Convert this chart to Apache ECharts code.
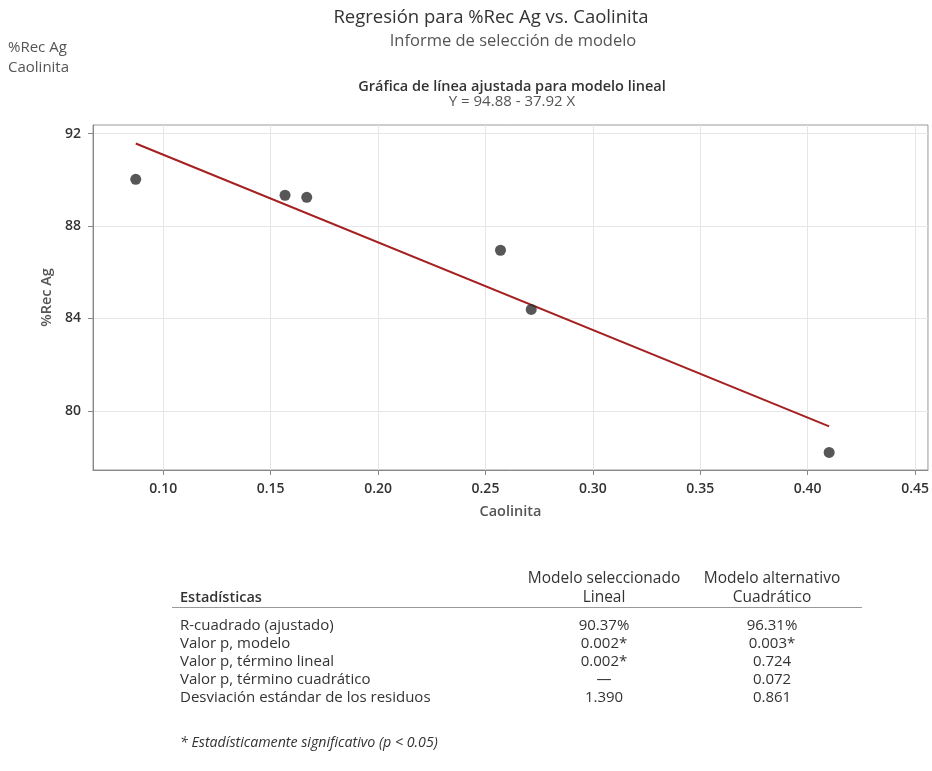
<!DOCTYPE html>
<html>
<head>
<meta charset="utf-8">
<script src="https://cdn.jsdelivr.net/npm/echarts@6/dist/echarts.min.js"></script>
<style>html,body{margin:0;padding:0;background:#fff}#c{width:932px;height:771px}</style>
</head>
<body>
<div id="c"></div>
<script>
// Data
const caolinita = [0.0872, 0.1567, 0.1668, 0.2570, 0.2713, 0.4100];
const recAg = [90.02, 89.33, 89.24, 86.95, 84.39, 78.20];
const fitX = [0.0872, 0.4100];
const fitY = [91.57, 79.33];
const xTicks = [0.10, 0.15, 0.20, 0.25, 0.30, 0.35, 0.40, 0.45];
const yTicks = [80, 84, 88, 92];
const tableRows = ['R-cuadrado (ajustado)', 'Valor p, modelo', 'Valor p, término lineal', 'Valor p, término cuadrático', 'Desviación estándar de los residuos'];
const linealVals = ['90.37%', '0.002*', '0.002*', '—', '1.390'];
const cuadVals = ['96.31%', '0.003*', '0.724', '0.072', '0.861'];

const FONT = 'Open Sans';
const f = (s, w, st) => (st || '') + ' ' + (w || 'normal') + ' ' + s + 'px "' + FONT + '"';
const chart = echarts.init(document.getElementById('c'), null, {renderer: 'canvas'});

const graphics = [
  {type: 'text', x: 8, y: 48, style: {text: '%Rec Ag', font: f(15), fill: '#555', verticalAlign: 'middle'}},
  {type: 'text', x: 8, y: 68, style: {text: 'Caolinita', font: f(15), fill: '#555', verticalAlign: 'middle'}},
  {type: 'text', x: 491, y: 18, style: {text: 'Regresión para %Rec Ag vs. Caolinita', font: f(18.5), fill: '#333', align: 'center', verticalAlign: 'middle'}},
  {type: 'text', x: 513, y: 41, style: {text: 'Informe de selección de modelo', font: f(16.5), fill: '#555', align: 'center', verticalAlign: 'middle'}},
  {type: 'text', x: 512, y: 87, style: {text: 'Gráfica de línea ajustada para modelo lineal', font: f(14.5, 600), fill: '#333', align: 'center', verticalAlign: 'middle'}},
  {type: 'text', x: 512, y: 102, style: {text: 'Y = 94.88 - 37.92 X', font: f(15), fill: '#555', align: 'center', verticalAlign: 'middle'}},
  // table header
  {type: 'text', x: 180, y: 598, style: {text: 'Estadísticas', font: f(14.5, 600), fill: '#333', verticalAlign: 'middle'}},
  {type: 'text', x: 604, y: 579, style: {text: 'Modelo seleccionado', font: f(15.5), fill: '#333', align: 'center', verticalAlign: 'middle'}},
  {type: 'text', x: 604, y: 598, style: {text: 'Lineal', font: f(15.5), fill: '#333', align: 'center', verticalAlign: 'middle'}},
  {type: 'text', x: 772, y: 579, style: {text: 'Modelo alternativo', font: f(15.5), fill: '#333', align: 'center', verticalAlign: 'middle'}},
  {type: 'text', x: 772, y: 598, style: {text: 'Cuadrático', font: f(15.5), fill: '#333', align: 'center', verticalAlign: 'middle'}},
  {type: 'line', shape: {x1: 172, y1: 607.5, x2: 862, y2: 607.5}, style: {stroke: '#999', lineWidth: 1}},
  {type: 'text', x: 180, y: 743, style: {text: '* Estadísticamente significativo (p < 0.05)', font: f(14.2, 'normal', 'italic'), fill: '#333', verticalAlign: 'middle'}}
];
tableRows.forEach((r, i) => {
  const y = 626 + i * 18;
  graphics.push({type: 'text', x: 180, y: y, style: {text: r, font: f(15), fill: '#333', verticalAlign: 'middle'}});
  graphics.push({type: 'text', x: 604, y: y, style: {text: linealVals[i], font: f(15), fill: '#333', align: 'center', verticalAlign: 'middle'}});
  graphics.push({type: 'text', x: 772, y: y, style: {text: cuadVals[i], font: f(15), fill: '#333', align: 'center', verticalAlign: 'middle'}});
});

chart.setOption({
  animation: false,
  backgroundColor: '#fff',
  textStyle: {fontFamily: FONT},
  grid: {left: 93, top: 125, right: 3, bottom: 301, show: true, borderColor: '#999', borderWidth: 1},
  xAxis: {
    type: 'value', min: 0.0673, max: 0.456,
    name: 'Caolinita', nameLocation: 'middle', nameGap: 34,
    nameTextStyle: {fontSize: 14.5, fontWeight: 600, color: '#555', fontFamily: FONT},
    axisLine: {show: true, lineStyle: {color: '#888'}},
    axisTick: {show: true, length: 5, lineStyle: {color: '#888'}, customValues: xTicks},
    axisLabel: {customValues: xTicks, formatter: v => v.toFixed(2), fontSize: 14, fontWeight: 600, color: '#333', margin: 12, fontFamily: FONT},
    splitLine: {show: true, lineStyle: {color: '#e6e6e6'}}
  },
  yAxis: {
    type: 'value', min: 77.44, max: 92.37,
    name: '%Rec Ag', nameLocation: 'middle', nameGap: 36,
    nameTextStyle: {fontSize: 14.5, fontWeight: 600, color: '#555', fontFamily: FONT},
    axisLine: {show: true, lineStyle: {color: '#888'}},
    axisTick: {show: true, length: 5, lineStyle: {color: '#888'}, customValues: yTicks},
    axisLabel: {customValues: yTicks, fontSize: 14, fontWeight: 600, color: '#333', margin: 12, fontFamily: FONT},
    splitLine: {show: true, lineStyle: {color: '#e6e6e6'}}
  },
  series: [
    {type: 'line', data: fitX.map((x, i) => [x, fitY[i]]), showSymbol: false, symbol: 'none',
     lineStyle: {color: '#a52020', width: 2}, z: 2},
    {type: 'scatter', data: caolinita.map((x, i) => [x, recAg[i]]), symbolSize: 11,
     itemStyle: {color: '#2d2d2d'}, z: 3}
  ],
  graphic: graphics
});
</script>
</body>
</html>
